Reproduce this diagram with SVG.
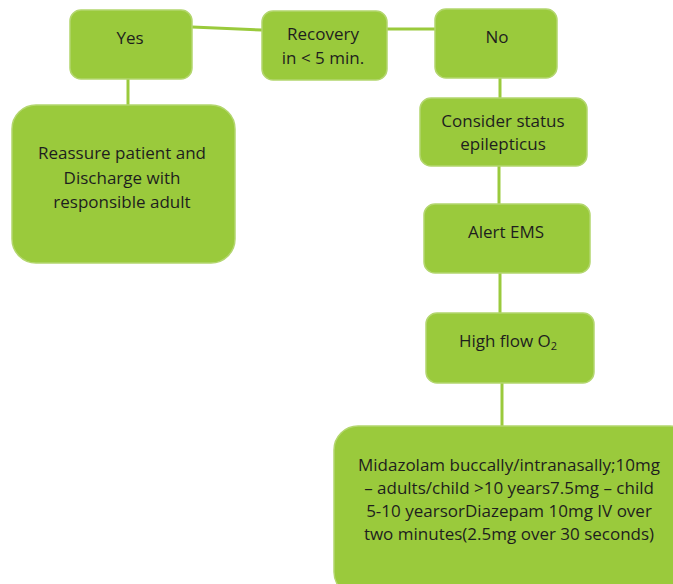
<svg xmlns="http://www.w3.org/2000/svg" width="673" height="584" viewBox="0 0 673 584">
<style>
.box{fill:#9ACA3C;stroke:#B3D66E;stroke-width:1.5}
.ln{stroke:#9ACA3C;stroke-width:3;fill:none}
text{font-family:"Open Sans","Liberation Sans",sans-serif;font-size:17px;fill:#1e1e1e;text-anchor:middle}
</style>
<rect width="673" height="584" fill="#fff"/>
<g id="connectors">
<line class="ln" x1="192" y1="27" x2="262" y2="30"/>
<line class="ln" x1="387" y1="29" x2="435" y2="29"/>
<line class="ln" x1="128" y1="79" x2="128" y2="105"/>
<line class="ln" x1="500" y1="78" x2="500" y2="98"/>
<line class="ln" x1="499" y1="166" x2="499" y2="204"/>
<line class="ln" x1="500" y1="273" x2="500" y2="313"/>
<line class="ln" x1="502" y1="382" x2="502" y2="426"/>
</g>
<g id="yes">
<rect class="box" x="70" y="10" width="122" height="69" rx="11"/>
<text x="130" y="44">Yes</text>
</g>
<g id="recovery">
<rect class="box" x="262" y="11" width="125" height="69" rx="11"/>
<text x="323" y="40">Recovery</text>
<text x="323" y="64">in &lt; 5 min.</text>
</g>
<g id="no">
<rect class="box" x="435" y="9" width="122" height="69" rx="11"/>
<text x="497" y="43">No</text>
</g>
<g id="reassure">
<rect class="box" x="12" y="105" width="223" height="158" rx="24"/>
<text x="122" y="159">Reassure patient and</text>
<text x="122" y="184">Discharge with</text>
<text x="122" y="208">responsible adult</text>
</g>
<g id="consider">
<rect class="box" x="420" y="98" width="167" height="68" rx="11"/>
<text x="503" y="127">Consider status</text>
<text x="503" y="150">epilepticus</text>
</g>
<g id="alert">
<rect class="box" x="424" y="204" width="166" height="69" rx="11"/>
<text x="506" y="238">Alert EMS</text>
</g>
<g id="oxygen">
<rect class="box" x="426" y="313" width="168" height="70" rx="11"/>
<text x="508" y="347">High flow O<tspan font-size="11" dy="3">2</tspan></text>
</g>
<g id="midazolam">
<rect class="box" x="334" y="426" width="360" height="170" rx="24"/>
<text x="509" y="471">Midazolam buccally/intranasally;10mg</text>
<text x="509" y="494">– adults/child &gt;10 years7.5mg – child</text>
<text x="509" y="517">5-10 yearsorDiazepam 10mg IV over</text>
<text x="509" y="540">two minutes(2.5mg over 30 seconds)</text>
</g>
</svg>
